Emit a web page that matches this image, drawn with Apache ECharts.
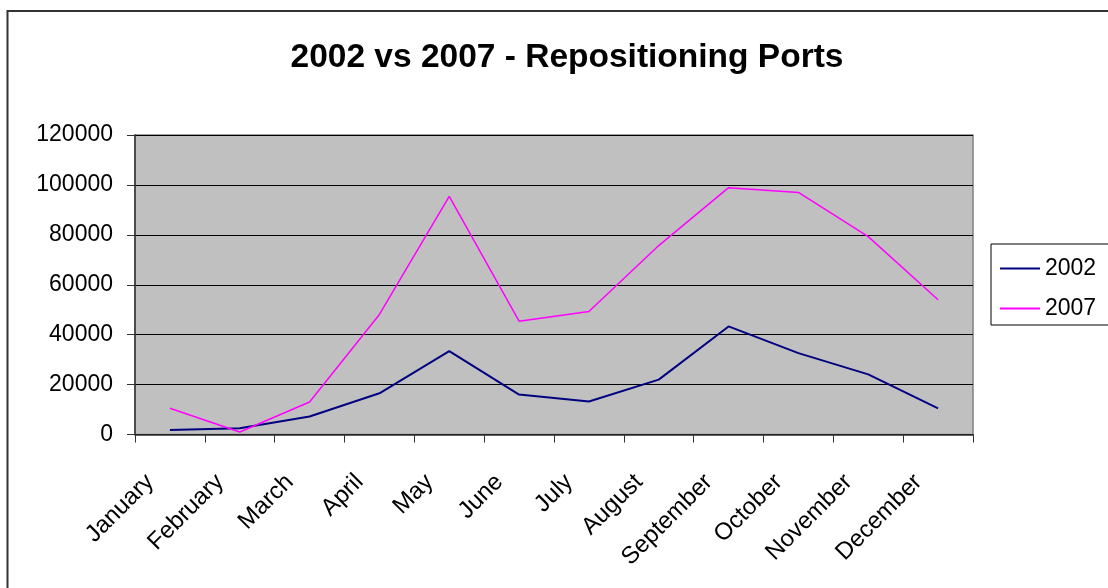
<!DOCTYPE html>
<html>
<head>
<meta charset="utf-8">
<script src="https://cdn.jsdelivr.net/npm/echarts@6/dist/echarts.min.js"></script>
<style>
  html, body { margin: 0; padding: 0; background: #fff; }
  #chart { width: 1108px; height: 588px; }
</style>
</head>
<body>
<div id="chart"></div>
<script>
// months along the x axis
var months = ['January', 'February', 'March', 'April', 'May', 'June',
              'July', 'August', 'September', 'October', 'November', 'December'];

var ports2002 = [1800, 2500, 7200, 16500, 33400, 16000, 13200, 22000, 43300, 32600, 24100, 10500];
var ports2007 = [10500, 1000, 13000, 48100, 95400, 45400, 49300, 75700, 98900, 97000, 79300, 54000];

var yTicks = [0, 20000, 40000, 60000, 80000, 100000, 120000];

var font = 'Liberation Sans, Arial, sans-serif';

var chart = echarts.init(document.getElementById('chart'));

var option = {
    backgroundColor: '#fff',
    animation: false,
    title: {
        text: '2002 vs 2007 - Repositioning Ports',
        left: 562,
        textAlign: 'center',
        top: 36,
        textStyle: { fontFamily: font, fontSize: 33.5, fontWeight: 'bold', color: '#000' }
    },
    graphic: [{
        type: 'rect',
        shape: { x: 7.5, y: 11, width: 1120, height: 600 },
        style: { fill: null, stroke: '#333', lineWidth: 2 },
        z: -1
    }, {
        // legend frame
        type: 'rect',
        shape: { x: 991, y: 244, width: 130, height: 81 },
        style: { fill: '#fff', stroke: '#000', lineWidth: 1 },
        z: 1
    }],
    legend: {
        left: 995,
        top: 252,
        orient: 'vertical',
        itemGap: 17,
        itemWidth: 40,
        itemHeight: 2,
        icon: 'rect',
        z: 5,
        textStyle: { fontFamily: font, fontSize: 23, color: '#000' },
        data: ['2002', '2007']
    },
    grid: {
        left: 135,
        top: 135,
        width: 838,
        height: 299.5,
        show: true,
        backgroundColor: '#c0c0c0',
        borderColor: '#808080',
        borderWidth: 1.5
    },
    xAxis: {
        type: 'category',
        data: months,
        boundaryGap: true,
        axisLine: { lineStyle: { color: '#333', width: 1.5 } },
        axisTick: { show: true, length: 8, lineStyle: { color: '#333' } },
        axisLabel: {
            interval: 0,
            rotate: 45,
            margin: 24,
            padding: [0, 28, 0, 0],
            fontFamily: font,
            fontSize: 24,
            color: '#000'
        }
    },
    yAxis: {
        type: 'value',
        min: yTicks[0],
        max: yTicks[yTicks.length - 1],
        interval: 20000,
        axisLine: { show: true, lineStyle: { color: '#333', width: 1.5 } },
        axisTick: { show: true, length: 8, lineStyle: { color: '#333' } },
        axisLabel: {
            margin: 22,
            fontFamily: font,
            fontSize: 23,
            color: '#000',
            formatter: function (v) { return String(v); }
        },
        splitLine: { show: true, lineStyle: { color: '#000', width: 1 } }
    },
    series: [{
        name: '2002',
        type: 'line',
        data: ports2002,
        symbol: 'none',
        lineStyle: { color: '#000080', width: 2 },
        itemStyle: { color: '#000080' }
    }, {
        name: '2007',
        type: 'line',
        data: ports2007,
        symbol: 'none',
        lineStyle: { color: '#ff00ff', width: 1.5 },
        itemStyle: { color: '#ff00ff' }
    }]
};

chart.setOption(option);
</script>
</body>
</html>
